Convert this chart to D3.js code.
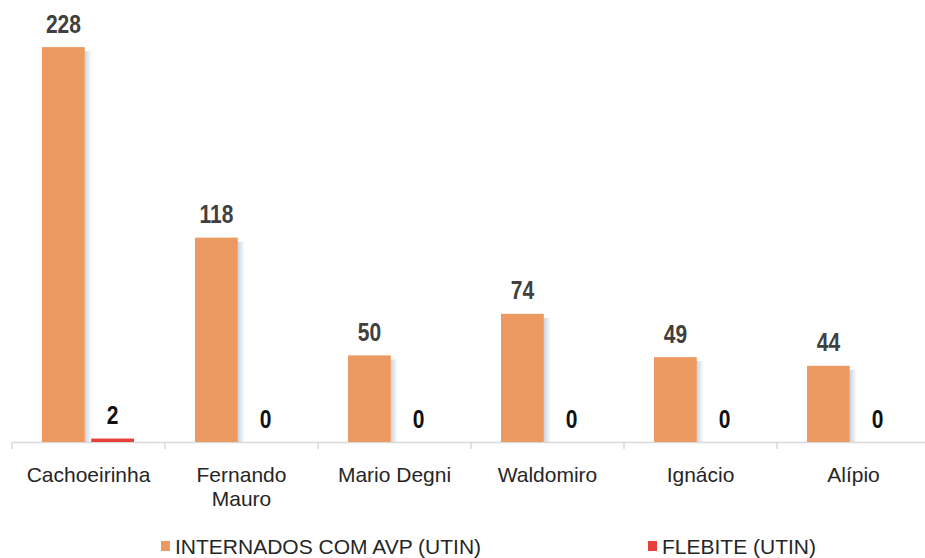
<!DOCTYPE html>
<html>
<head>
<meta charset="utf-8">
<script src="https://cdn.jsdelivr.net/npm/d3@7"></script>
<style>
  html, body { margin: 0; padding: 0; background: #ffffff; }
  svg { display: block; }
</style>
</head>
<body>
<svg id="chart" width="925" height="558"></svg>
<script>
const categories = ["Cachoeirinha", "Fernando Mauro", "Mario Degni", "Waldomiro", "Ignácio", "Alípio"];
const categoryLines = [["Cachoeirinha"], ["Fernando", "Mauro"], ["Mario Degni"], ["Waldomiro"], ["Ignácio"], ["Alípio"]];
const seriesNames = ["INTERNADOS COM AVP (UTIN)", "FLEBITE (UTIN)"];
const internados = [228, 118, 50, 74, 49, 44];
const flebite = [2, 0, 0, 0, 0, 0];
const seriesColors = ["#EC9A62", "#E8413C"];

const svg = d3.select("#chart");
const W = 925, H = 558;
const baseY = 442;

const x = d3.scaleBand().domain(categories).range([12, 930]).paddingInner(0).paddingOuter(0);
const xs = d3.scaleBand().domain(seriesNames).range([30, 122]).paddingInner(0.13).paddingOuter(0);
const y = d3.scaleLinear().domain([0, 250]).range([baseY, baseY - 433]);

const defs = svg.append("defs");
const grad = defs.append("linearGradient").attr("id", "shadow").attr("x1", "0").attr("x2", "1").attr("y1", "0").attr("y2", "0");
grad.append("stop").attr("offset", "0").attr("stop-color", "#b7c6d4").attr("stop-opacity", 0.75);
grad.append("stop").attr("offset", "1").attr("stop-color", "#b7c6d4").attr("stop-opacity", 0);

const rows = categories.map((c, i) => ({ cat: c, vals: [internados[i], flebite[i]] }));

// axis
const axisG = svg.append("g").attr("transform", `translate(0,${baseY})`);
axisG.append("line").attr("x1", 12).attr("x2", W).attr("y1", 0.5).attr("y2", 0.5)
  .attr("stroke", "#d9d9d9").attr("stroke-width", 1.5);
const boundaries = categories.map(c => x(c)).concat([x.range()[1]]);
axisG.selectAll("line.tick").data(boundaries).enter().append("line")
  .attr("class", "tick")
  .attr("x1", d => d).attr("x2", d => d).attr("y1", 0).attr("y2", 7)
  .attr("stroke", "#d9d9d9").attr("stroke-width", 1.5);

const groups = svg.selectAll("g.cat").data(rows).enter().append("g")
  .attr("class", "cat").attr("transform", d => `translate(${x(d.cat)},0)`);

groups.each(function(d) {
  const g = d3.select(this);
  d.vals.forEach((v, si) => {
    const bx = xs(seriesNames[si]);
    const bw = xs.bandwidth();
    if (si === 0) {
      g.append("rect")
        .attr("x", bx + bw).attr("y", y(v) + 4)
        .attr("width", 7).attr("height", baseY - y(v) - 4)
        .attr("fill", "url(#shadow)");
    }
    g.append("rect")
      .attr("x", bx).attr("y", y(v))
      .attr("width", bw).attr("height", baseY - y(v))
      .attr("fill", seriesColors[si]);
    g.append("text")
      .attr("transform", `translate(${bx + bw / 2},${y(v) - 14.5}) scale(0.84,1)`)
      .attr("text-anchor", "middle")
      .attr("font-family", "'Liberation Sans', Arial, sans-serif")
      .attr("font-weight", "bold")
      .attr("font-size", 25)
      .attr("fill", si === 0 ? "#404040" : "#111111")
      .text(v);
  });
});

// category labels
groups.each(function(d, i) {
  const g = d3.select(this);
  const t = g.append("text")
    .attr("x", x.bandwidth() / 2).attr("y", 482)
    .attr("text-anchor", "middle")
    .attr("font-family", "'Liberation Sans', Arial, sans-serif")
    .attr("font-size", 21)
    .attr("fill", "#262626");
  categoryLines[i].forEach((ln, li) => {
    t.append("tspan").attr("x", x.bandwidth() / 2).attr("dy", li === 0 ? 0 : 24).text(ln);
  });
});

// legend
const legendX = [161, 648];
const leg = svg.selectAll("g.leg").data(seriesNames).enter().append("g")
  .attr("class", "leg").attr("transform", (d, i) => `translate(${legendX[i]},541)`);
leg.append("rect").attr("x", 0).attr("y", 0).attr("width", 9).attr("height", 10)
  .attr("fill", (d, i) => seriesColors[i]);
leg.append("text").attr("x", 14).attr("y", 13)
  .attr("font-family", "'Liberation Sans', Arial, sans-serif")
  .attr("font-size", 21)
  .attr("fill", "#262626")
  .text(d => d);
</script>
</body>
</html>
